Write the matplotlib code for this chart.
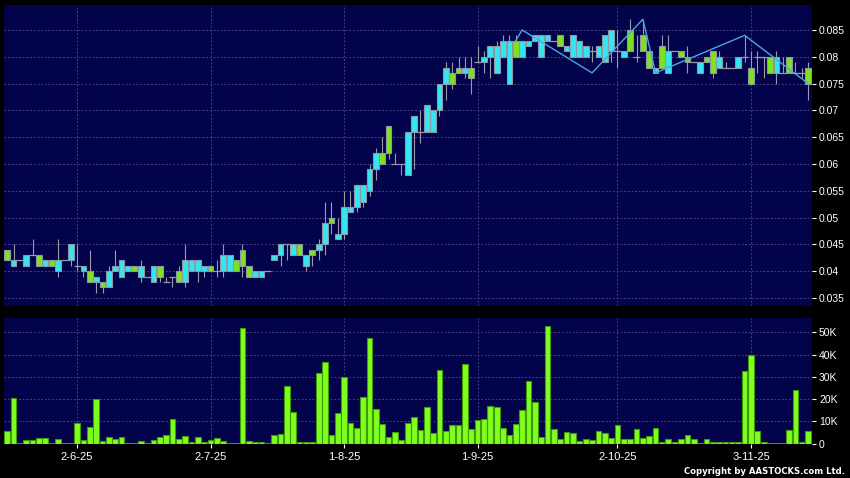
import matplotlib
matplotlib.use("Agg")
import matplotlib.pyplot as plt
import numpy as np

# daily candles (price) and volume in thousands, one entry per trading day
opens = [0.044, 0.041, 0.042, 0.041, 0.043, 0.043, 0.041, 0.042, 0.040, 0.042,
         0.042, 0.041, 0.040, 0.040, 0.038, 0.038, 0.037, 0.040, 0.039, 0.040,
         0.041, 0.039, 0.039, 0.038, 0.041, 0.038, 0.039, 0.040, 0.038, 0.040,
         0.040, 0.040, 0.041, 0.040, 0.040, 0.040, 0.042, 0.044, 0.041, 0.039,
         0.039, 0.040, 0.042, 0.043, 0.045, 0.043, 0.045, 0.041, 0.044, 0.044,
         0.045, 0.050, 0.046, 0.047, 0.051, 0.052, 0.053, 0.055, 0.059, 0.062,
         0.067, 0.060, 0.060, 0.058, 0.066, 0.066, 0.066, 0.066, 0.070, 0.075,
         0.077, 0.078, 0.077, 0.078, 0.079, 0.079, 0.080, 0.077, 0.080, 0.075,
         0.083, 0.080, 0.082, 0.083, 0.080, 0.083, 0.083, 0.084, 0.081, 0.080,
         0.080, 0.080, 0.081, 0.080, 0.079, 0.081, 0.081, 0.080, 0.085, 0.080,
         0.084, 0.081, 0.077, 0.082, 0.077, 0.081, 0.081, 0.080, 0.079, 0.077,
         0.080, 0.081, 0.078, 0.078, 0.078, 0.078, 0.080, 0.078, 0.080, 0.080,
         0.080, 0.077, 0.077, 0.080, 0.077, 0.077, 0.078]
highs = [0.044, 0.045, 0.042, 0.043, 0.046, 0.043, 0.042, 0.042, 0.046, 0.042,
         0.045, 0.045, 0.041, 0.044, 0.039, 0.038, 0.041, 0.044, 0.042, 0.041,
         0.041, 0.042, 0.039, 0.041, 0.041, 0.039, 0.039, 0.041, 0.045, 0.042,
         0.042, 0.041, 0.041, 0.042, 0.045, 0.043, 0.042, 0.045, 0.041, 0.040,
         0.040, 0.040, 0.043, 0.045, 0.045, 0.045, 0.045, 0.043, 0.044, 0.046,
         0.053, 0.053, 0.050, 0.055, 0.055, 0.056, 0.056, 0.060, 0.063, 0.065,
         0.067, 0.062, 0.060, 0.066, 0.069, 0.070, 0.071, 0.070, 0.075, 0.079,
         0.079, 0.080, 0.080, 0.080, 0.082, 0.081, 0.082, 0.083, 0.084, 0.084,
         0.084, 0.083, 0.083, 0.084, 0.084, 0.084, 0.083, 0.084, 0.082, 0.084,
         0.083, 0.082, 0.082, 0.082, 0.084, 0.085, 0.085, 0.081, 0.087, 0.084,
         0.087, 0.081, 0.078, 0.084, 0.084, 0.081, 0.081, 0.082, 0.079, 0.079,
         0.080, 0.081, 0.081, 0.079, 0.078, 0.080, 0.084, 0.081, 0.081, 0.080,
         0.080, 0.081, 0.080, 0.080, 0.079, 0.078, 0.079]
lows = [0.042, 0.041, 0.042, 0.041, 0.043, 0.041, 0.041, 0.041, 0.039, 0.042,
        0.041, 0.040, 0.039, 0.038, 0.036, 0.036, 0.037, 0.040, 0.039, 0.040,
        0.040, 0.038, 0.039, 0.038, 0.038, 0.038, 0.037, 0.038, 0.037, 0.040,
        0.038, 0.039, 0.040, 0.039, 0.039, 0.040, 0.040, 0.039, 0.039, 0.039,
        0.039, 0.040, 0.042, 0.041, 0.042, 0.043, 0.043, 0.040, 0.041, 0.042,
        0.043, 0.047, 0.046, 0.046, 0.051, 0.051, 0.052, 0.054, 0.057, 0.060,
        0.061, 0.060, 0.058, 0.058, 0.059, 0.064, 0.066, 0.066, 0.069, 0.072,
        0.074, 0.077, 0.076, 0.073, 0.079, 0.077, 0.076, 0.077, 0.080, 0.075,
        0.080, 0.080, 0.082, 0.083, 0.080, 0.083, 0.083, 0.082, 0.081, 0.080,
        0.080, 0.080, 0.079, 0.080, 0.079, 0.079, 0.078, 0.080, 0.081, 0.079,
        0.081, 0.078, 0.077, 0.078, 0.077, 0.081, 0.080, 0.077, 0.079, 0.077,
        0.079, 0.076, 0.078, 0.078, 0.078, 0.078, 0.079, 0.075, 0.077, 0.076,
        0.077, 0.075, 0.077, 0.077, 0.077, 0.076, 0.072]
closes = [0.042, 0.042, 0.042, 0.043, 0.043, 0.041, 0.042, 0.041, 0.042, 0.042,
          0.045, 0.041, 0.041, 0.038, 0.039, 0.037, 0.040, 0.041, 0.042, 0.041,
          0.040, 0.041, 0.039, 0.041, 0.039, 0.038, 0.039, 0.038, 0.042, 0.042,
          0.042, 0.041, 0.040, 0.040, 0.043, 0.043, 0.040, 0.041, 0.039, 0.040,
          0.040, 0.040, 0.043, 0.045, 0.045, 0.045, 0.043, 0.043, 0.043, 0.045,
          0.049, 0.049, 0.047, 0.052, 0.052, 0.056, 0.056, 0.059, 0.062, 0.060,
          0.062, 0.060, 0.060, 0.066, 0.069, 0.066, 0.071, 0.070, 0.075, 0.078,
          0.075, 0.077, 0.078, 0.076, 0.079, 0.080, 0.082, 0.082, 0.083, 0.083,
          0.080, 0.083, 0.083, 0.084, 0.084, 0.084, 0.083, 0.082, 0.082, 0.084,
          0.083, 0.082, 0.081, 0.082, 0.084, 0.085, 0.081, 0.081, 0.081, 0.080,
          0.081, 0.078, 0.078, 0.078, 0.081, 0.081, 0.080, 0.079, 0.079, 0.079,
          0.079, 0.077, 0.080, 0.078, 0.078, 0.080, 0.080, 0.075, 0.080, 0.080,
          0.077, 0.080, 0.077, 0.077, 0.077, 0.077, 0.075]
volumes_k = [5.4, 20.4, 0.3, 1.5, 1.5, 2.5, 2.5, 0.2, 2.0, 0.1,
             0.1, 9.0, 1.7, 7.2, 20.0, 1.0, 3.0, 2.1, 3.0, 0.1,
             0.3, 0.9, 0.3, 1.4, 3.0, 3.6, 11.1, 2.0, 3.2, 0.6,
             2.9, 0.5, 1.5, 2.6, 1.2, 0.3, 0.3, 51.8, 1.2, 0.5,
             0.5, 0.1, 3.6, 4.2, 25.8, 14.0, 0.6, 0.5, 0.5, 31.5,
             36.5, 3.8, 13.8, 30.0, 9.2, 6.9, 21.0, 47.4, 15.5, 8.9,
             2.9, 5.3, 1.7, 9.0, 11.7, 6.0,
             16.4, 4.8, 33.0, 5.5, 8.3, 8.3, 35.6, 6.5, 10.7, 11.1,
             17.0, 16.4, 6.9, 3.8, 8.6, 15.0, 28.2, 18.8, 2.9, 53.0,
             6.5, 2.0, 5.3, 4.5, 1.2, 1.8, 1.5, 5.7, 4.7, 2.4,
             8.3, 1.8, 1.8, 6.3, 2.4, 3.3, 6.8, 0.8, 1.8, 0.5,
             1.8, 3.9, 2.0, 0.1, 1.8, 0.8, 0.5, 0.8, 0.5, 0.8,
             32.6, 40.0, 5.6, 0.5, 0.1, 0.3, 0.2, 6.0, 23.9, 0.6, 5.7]

# zigzag overlay: (day index, price) turning points
zigzag_idx = [80, 81, 92, 100, 102, 116, 126]
zigzag_px = [0.083, 0.085, 0.077, 0.087, 0.077, 0.084, 0.075]

date_labels = ["2-6-25", "2-7-25", "1-8-25", "1-9-25", "2-10-25", "3-11-25"]
date_idx = [11, 32, 53, 74, 96, 117]

price_ticks = [0.035, 0.04, 0.045, 0.05, 0.055, 0.06, 0.065, 0.07, 0.075, 0.08, 0.085]
vol_ticks_k = [0, 10, 20, 30, 40, 50]

NAVY = "#03034b"
GRID = "#4e4e86"
UP = "#35e6f2"
DOWN = "#7fe21c"
EDGE = "#8c98a4"
WICK = "#9a9aa8"
VOL = "#80ff1e"
VOL_EDGE = "#3f9a08"


def style_axis(ax):
    ax.set_facecolor(NAVY)
    for s in ax.spines.values():
        s.set_visible(False)
    ax.yaxis.tick_right()
    ax.tick_params(axis="y", colors="white", labelsize=7.5, length=3, width=0.8,
                   pad=2, labelfontfamily="Liberation Sans")
    ax.grid(True, color=GRID, linestyle=(0, (2.2, 2.2)), linewidth=0.6)
    ax.set_axisbelow(True)


def main():
    o = np.array(opens)
    h = np.array(highs)
    l = np.array(lows)
    c = np.array(closes)
    v = np.array(volumes_k) * 1000
    x = np.arange(len(o))

    fig = plt.figure(figsize=(8.5, 4.78), dpi=100, facecolor="black")
    ax = fig.add_axes([4 / 850, 1 - 306 / 478, 808 / 850, 301 / 478])
    axv = fig.add_axes([4 / 850, 1 - 443.5 / 478, 808 / 850, 125.2 / 478])

    # price panel
    style_axis(ax)
    ax.vlines(x, l, h, color=WICK, linewidth=0.8, zorder=2)
    up = c > o
    dn = c < o
    flat = c == o
    ax.bar(x[up], (c - o)[up], bottom=o[up], width=0.9, color=UP,
           edgecolor=EDGE, linewidth=0.8, zorder=3)
    ax.bar(x[dn], (o - c)[dn], bottom=c[dn], width=0.9, color=DOWN,
           edgecolor=EDGE, linewidth=0.8, zorder=3)
    ax.hlines(c[flat], x[flat] - 0.55, x[flat] + 0.55, color=WICK,
              linewidth=0.9, zorder=3)
    ax.plot(zigzag_idx, zigzag_px, color="#4aa6e0", linewidth=1.0, zorder=4)

    ax.set_xlim(-0.5, 126.6)
    ax.set_ylim(0.03351, 0.08966)
    ax.set_yticks(price_ticks)
    ax.set_yticklabels([f"{t:g}" for t in price_ticks])
    ax.set_xticks(date_idx)
    ax.tick_params(axis="x", length=0, labelbottom=False)

    # volume panel
    style_axis(axv)
    axv.bar(x, v, width=0.9, color=VOL, edgecolor=VOL_EDGE, linewidth=0.8, zorder=3)
    axv.set_xlim(-0.5, 126.6)
    axv.set_ylim(0, 56300)
    axv.set_yticks([t * 1000 for t in vol_ticks_k])
    axv.set_yticklabels(["0" if t == 0 else f"{t}K" for t in vol_ticks_k])
    axv.set_xticks(date_idx)
    axv.set_xticklabels(date_labels)
    axv.tick_params(axis="x", colors="white", labelsize=8, length=3, width=0.8,
                    pad=3, labelfontfamily="Liberation Sans")

    fig.text(845 / 850, 1 - 471.5 / 478, "Copyright by AASTOCKS.com Ltd.",
             color="white", fontsize=6.1, fontweight="bold",
             family="DejaVu Sans", ha="right", va="center")

    fig.savefig("out.png", dpi=100, facecolor="black")


if __name__ == "__main__":
    main()
